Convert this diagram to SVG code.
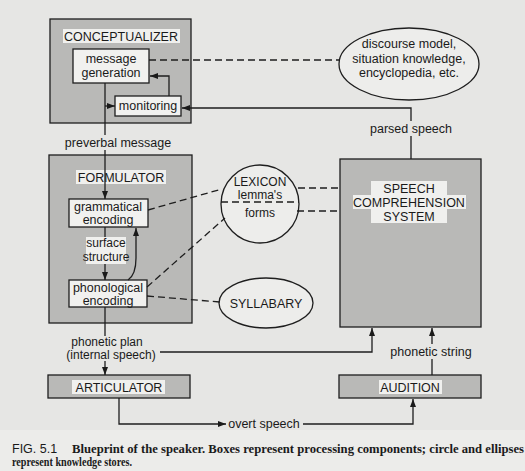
<svg xmlns="http://www.w3.org/2000/svg" width="525" height="471" viewBox="0 0 525 471">
<defs>
<marker id="ah" markerWidth="8" markerHeight="6" refX="8" refY="3" orient="auto" markerUnits="userSpaceOnUse">
<path d="M0,0 L8,3 L0,6 z" fill="#1a1a1a"/>
</marker>
</defs>
<style>
.page{fill:#e6e6e4}
.box{fill:#b9b9b7;stroke:#1e1e1e;stroke-width:1.3}
.inner{fill:#f1f1ef;stroke:#1e1e1e;stroke-width:1.3}
.ell{fill:#ededeb;stroke:#1e1e1e;stroke-width:1.3}
.hl{fill:#f0f0ee}
.pg{fill:#e6e6e4}
.t{font-family:"Liberation Sans",Arial,sans-serif;font-size:12.5px;fill:#1a1a1a;text-anchor:middle}
.s{font-size:12px}
.ln{fill:none;stroke:#1e1e1e;stroke-width:1.3}
.dash{fill:none;stroke:#1e1e1e;stroke-width:1.3;stroke-dasharray:7 4}
.arr{marker-end:url(#ah)}
.cap{font-family:"Liberation Sans",Arial,sans-serif;font-size:12.5px;fill:#1a1a1a}
.caps{font-family:"Liberation Serif","Times New Roman",serif;font-size:12.5px;font-weight:bold;fill:#1a1a1a}
</style>
<rect class="page" x="0" y="0" width="525" height="471"/>
<rect x="0" y="430" width="525" height="41" fill="#ececea"/>

<g id="conceptualizer">
<rect class="box" x="50" y="19" width="141" height="104"/>
<rect class="hl" x="63" y="29" width="117" height="14"/>
<text class="t" x="121" y="41">CONCEPTUALIZER</text>
</g>
<g id="message-generation">
<rect class="inner" x="73" y="49" width="76" height="34"/>
<text class="t" x="111" y="63">message</text>
<text class="t" x="111" y="77">generation</text>
</g>
<g id="monitoring">
<rect class="inner" x="115" y="96" width="66" height="20"/>
<text class="t" x="148" y="110">monitoring</text>
</g>
<g id="discourse-model">
<ellipse class="ell" cx="409" cy="64" rx="70" ry="36"/>
<text class="t" x="409" y="48">discourse model,</text>
<text class="t" x="409" y="63">situation knowledge,</text>
<text class="t" x="409" y="77">encyclopedia, etc.</text>
</g>
<g id="formulator">
<rect class="box" x="49" y="155" width="143" height="168"/>
<rect class="hl" x="76" y="170" width="90" height="14"/>
<text class="t" x="121" y="182">FORMULATOR</text>
</g>
<g id="grammatical-encoding">
<rect class="inner" x="69" y="199" width="79" height="28"/>
<text class="t" x="108" y="211">grammatical</text>
<text class="t" x="108" y="224">encoding</text>
</g>
<g id="phonological-encoding">
<rect class="inner" x="69" y="280" width="78" height="27"/>
<text class="t" x="108" y="292">phonological</text>
<text class="t" x="108" y="305">encoding</text>
</g>
<g id="lexicon">
<circle class="ell" cx="260" cy="204" r="39"/>
<path class="dash" d="M221,202 H299"/>
<text class="t s" x="260" y="186">LEXICON</text>
<text class="t s" x="260" y="199">lemma's</text>
<text class="t s" x="260" y="217">forms</text>
</g>
<g id="syllabary">
<ellipse class="ell" cx="266" cy="303" rx="47" ry="25"/>
<text class="t" x="266" y="308">SYLLABARY</text>
</g>
<g id="speech-comprehension-system">
<rect class="box" x="340" y="159" width="141" height="168"/>
<rect class="hl" x="371" y="181" width="76" height="14"/>
<rect class="hl" x="353" y="195" width="113" height="14"/>
<rect class="hl" x="371" y="209" width="76" height="14"/>
<text class="t" x="409" y="193">SPEECH</text>
<text class="t" x="409" y="207">COMPREHENSION</text>
<text class="t" x="409" y="221">SYSTEM</text>
</g>
<g id="articulator">
<rect class="box" x="48" y="375" width="142" height="23"/>
<rect class="hl" x="72" y="380" width="93" height="14"/>
<text class="t" x="119" y="392">ARTICULATOR</text>
</g>
<g id="audition">
<rect class="box" x="339" y="375" width="142" height="23"/>
<rect class="hl" x="379" y="380" width="63" height="14"/>
<text class="t" x="410" y="392">AUDITION</text>
</g>

<g id="connectors">
<path class="dash" d="M149,60 H340"/>
<path class="ln arr" d="M169,96 V76 H150"/>
<path class="ln arr" d="M411,159 V108 H182"/>
<path class="ln arr" d="M105,83 V199"/>
<path class="ln arr" d="M105,106 H115"/>
<path class="ln arr" d="M105,227 V280"/>
<path class="ln arr" d="M128,280 C134,276 136,268 136,258 V228"/>
<path class="ln arr" d="M105,307 V375"/>
<path class="ln arr" d="M160,352 H372 V328"/>
<path class="ln arr" d="M119,398 V424 H226"/>
<path class="ln arr" d="M303,424 H413 V399"/>
<path class="ln arr" d="M432,375 V328"/>
<path class="dash" d="M148,210 L222,189"/>
<path class="dash" d="M147,287 L225,218"/>
<path class="dash" d="M298,188 H340"/>
<path class="dash" d="M297,211 H340"/>
<path class="dash" d="M147,296 L220,302"/>
<rect class="pg" x="64" y="135" width="110" height="15"/>
<text class="t" x="118" y="147">preverbal message</text>
<rect class="pg" x="368" y="121" width="86" height="15"/>
<text class="t" x="411" y="133">parsed speech</text>
<rect class="hl" x="86" y="237" width="40" height="27"/>
<text class="t s" x="106" y="247">surface</text>
<text class="t s" x="106" y="261">structure</text>
<rect class="pg" x="64" y="336" width="96" height="25"/>
<text class="t s" x="107" y="346">phonetic plan</text>
<text class="t s" x="111" y="359">(internal speech)</text>
<rect class="pg" x="384" y="344" width="96" height="15"/>
<text class="t" x="431" y="356">phonetic string</text>
<text class="t" x="264" y="428">overt speech</text>
</g>

<g id="caption">
<text class="cap" x="12" y="453">FIG. 5.1</text>
<text class="caps" x="72" y="453" textLength="452" lengthAdjust="spacingAndGlyphs">Blueprint of the speaker. Boxes represent processing components; circle and ellipses</text>
<text class="caps" x="12" y="466" textLength="120" lengthAdjust="spacingAndGlyphs">represent knowledge stores.</text>
</g>
</svg>
